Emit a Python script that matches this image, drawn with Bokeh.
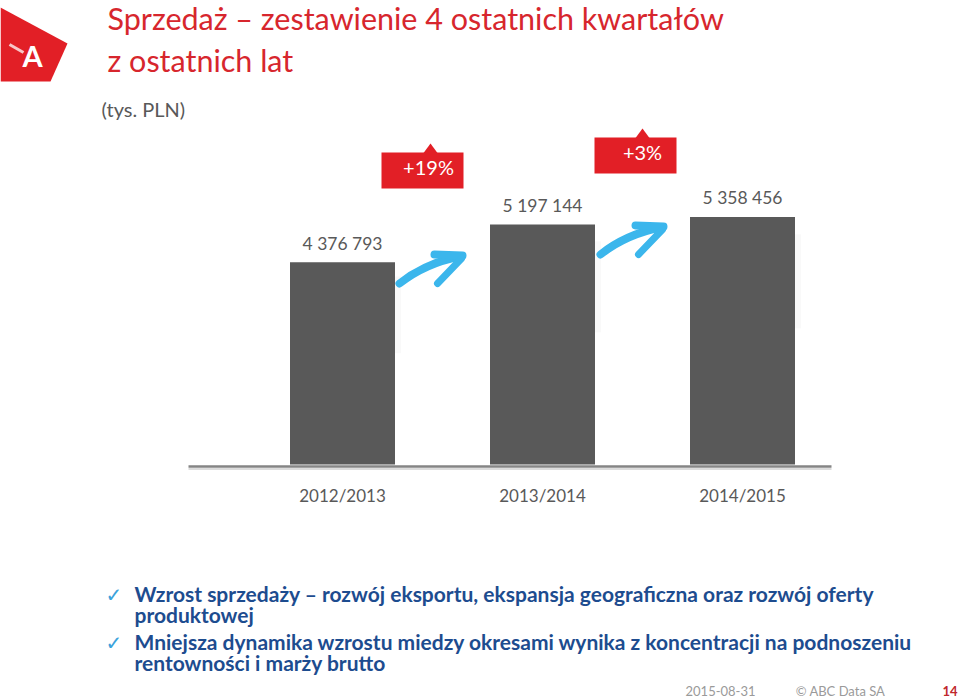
from bokeh.plotting import figure
from bokeh.models import Range1d
from bokeh.core.properties import value
from bokeh.embed import file_html
from bokeh.resources import INLINE

# ---------------- data ----------------
periods = ["2012/2013", "2013/2014", "2014/2015"]
sales = [4376793, 5197144, 5358456]
growth_labels = ["+19%", "+3%"]
title_lines = ["Sprzedaż – zestawienie 4 ostatnich kwartałów", "z ostatnich lat"]
unit_label = "(tys. PLN)"
bullet_lines = [
    "Wzrost sprzedaży – rozwój eksportu, ekspansja geograficzna oraz rozwój oferty",
    "produktowej",
    "Mniejsza dynamika wzrostu miedzy okresami wynika z koncentracji na podnoszeniu",
    "rentowności i marży brutto",
]
footer_date = "2015-08-31"
footer_company = "© ABC Data SA"
page_number = "14"

# ---------------- layout helpers (canvas pixels -> data) ----------------
W, H = 960, 700
S = 21650.0          # value units per pixel
BASE_PY = 464        # canvas y of value 0
BAR0_PX = 342        # canvas x of first bar centre
STEP = 200.0         # pixels between bars


def X(px):
    return (px - BAR0_PX) / STEP


def Y(py):
    return (BASE_PY - py) * S


p = figure(width=W, height=H,
           x_range=Range1d(X(0), X(W)), y_range=Range1d(Y(H), Y(0)),
           output_backend="svg", toolbar_location=None, tools="",
           x_axis_location=None, y_axis_location=None, min_border=0)
p.grid.visible = False
p.outline_line_color = None
p.background_fill_color = "white"
p.border_fill_color = "white"

RED = "#E21F26"
TITLE_RED = "#D7262D"
GREY = "#595959"
BLUE = "#1D4C8F"
ARROW = "#3BB6EC"


def txt(px, py, s, size, color, font="Lato", style="normal", align="left",
        baseline="alphabetic", alpha=1.0):
    p.text(x=[X(px)], y=[Y(py)], text=[s], text_font=value(font),
           text_font_size=f"{size}px", text_color=color, text_font_style=style,
           text_align=align, text_baseline=baseline, text_alpha=alpha)


# ---------------- logo ----------------
p.patch(x=[X(0), X(67), X(50), X(0)], y=[Y(7), Y(43), Y(81), Y(81)],
        fill_color=RED, line_color=None)
p.line(x=[X(9), X(23)], y=[Y(44), Y(52)], line_color="white", line_width=3, line_alpha=0.75)
txt(32, 55, "A", 29, "white", style="bold", align="center")

# ---------------- titles ----------------
txt(107, 17, title_lines[0], 30.5, TITLE_RED)
txt(107, 59, title_lines[1], 30.5, TITLE_RED)
txt(101, 108, unit_label, 20, GREY)

# ---------------- bars ----------------
idx = list(range(len(periods)))
# soft shadow at the right of the bars
p.quad(left=[i + 0.2625 for i in idx], right=[i + 0.2625 + 0.03 for i in idx],
       top=[v * 0.93 for v in sales], bottom=[v * 0.55 for v in sales],
       fill_color="#000000", fill_alpha=0.025, line_color=None)
p.vbar(x=idx, top=sales, bottom=0, width=0.525, fill_color=GREY, line_color=None)

value_labels = [f"{v:,}".replace(",", " ") for v in sales]
p.text(x=idx, y=sales, text=value_labels, text_font=value("Lato"),
       text_font_size="17.5px", text_color=GREY, text_align="center",
       text_baseline="alphabetic", y_offset=-19)
p.text(x=idx, y=[0] * len(idx), text=periods, text_font=value("Lato"),
       text_font_size="17px", text_color=GREY, text_align="center",
       text_baseline="alphabetic", y_offset=31)

# baseline
p.segment(x0=[X(188)], y0=[Y(468.5)], x1=[X(831)], y1=[Y(468.5)],
          line_color="#dcdcdc", line_width=2)
p.segment(x0=[X(188)], y0=[Y(466)], x1=[X(831)], y1=[Y(466)],
          line_color="#858585", line_width=2.5)

# ---------------- growth callouts ----------------
box_l = [381, 594]
box_r = [463, 676]
box_t = [152, 137]
box_b = [188, 173]
notch_x = [430, 642]
label_x = [428, 642]
p.quad(left=[X(v) for v in box_l], right=[X(v) for v in box_r],
       top=[Y(v) for v in box_t], bottom=[Y(v) for v in box_b],
       fill_color=RED, line_color=None)
p.patches(xs=[[X(n - 7), X(n), X(n + 7)] for n in notch_x],
          ys=[[Y(t + 0.5), Y(t - 9), Y(t + 0.5)] for t in box_t],
          fill_color=RED, line_color=None)
p.text(x=[X(v) for v in label_x], y=[Y((t + b) / 2 - 4) for t, b in zip(box_t, box_b)],
       text=growth_labels, text_font=value("Lato"), text_font_size="20px",
       text_color="white", text_align="center", text_baseline="middle")

# ---------------- arrows ----------------
for dx, dy in [(0, 0), (201, -29)]:
    p.quadratic(x0=[X(399 + dx)], y0=[Y(283 + dy)], x1=[X(459 + dx)], y1=[Y(256 + dy)],
                cx=[X(424 + dx)], cy=[Y(263 + dy)],
                line_color=ARROW, line_width=8, line_cap="round")
    p.line(x=[X(434 + dx), X(462 + dx)], y=[Y(254 + dy), Y(255 + dy)],
           line_color=ARROW, line_width=8, line_cap="round")
    p.line(x=[X(461 + dx), X(437 + dx)], y=[Y(258 + dy), Y(283 + dy)],
           line_color=ARROW, line_width=7, line_cap="round")

# ---------------- bullets ----------------
for py in [594, 642]:
    txt(105, py, "✓", 20, "#3BA3DC", font="DejaVu Sans")
for py, line in zip([593, 614, 641, 662], bullet_lines):
    txt(134, py, line, 21, BLUE, style="bold")

# ---------------- footer ----------------
txt(720, 690, footer_date, 13, "#9a9a9a", align="center")
txt(840, 690, footer_company, 13, "#9a9a9a", align="center")
txt(957, 690, page_number, 13, "#C0282D", style="bold", align="right")

open("out.html", "w").write(file_html(p, INLINE))
